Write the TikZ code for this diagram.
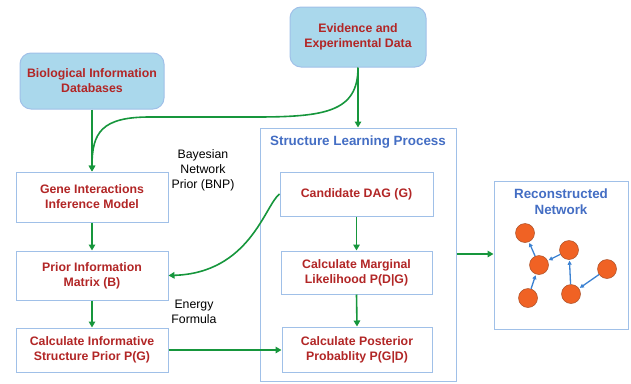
\documentclass[tikz,border=0pt]{standalone}
\usepackage{fontspec}
\setmainfont{Liberation Sans}
\usetikzlibrary{arrows.meta}
\definecolor{boxred}{RGB}{178,38,38}
\definecolor{titleblue}{RGB}{68,110,196}
\definecolor{edgeblue}{RGB}{160,192,232}
\definecolor{cyanfill}{RGB}{170,216,236}
\definecolor{arrgreen}{RGB}{22,150,60}
\definecolor{nodeorange}{RGB}{240,98,36}
\definecolor{nodeedge}{RGB}{170,80,40}
\definecolor{netblue}{RGB}{60,130,210}
\tikzset{
  x=1pt,y=1pt,
  basefont/.style={font=\fontsize{12.3}{15}\selectfont},
  dbbox/.style={draw=edgeblue,line width=1pt,fill=cyanfill,rounded corners=11pt,align=center,text=boxred,basefont,font=\fontsize{12.3}{15}\selectfont\bfseries,inner sep=0pt},
  stepbox/.style={draw=edgeblue,line width=1pt,fill=white,align=center,text=boxred,font=\fontsize{12.3}{15}\selectfont\bfseries,inner sep=0pt},
  bigbox/.style={draw=edgeblue,line width=1pt,fill=white,inner sep=0pt},
  titletext/.style={text=titleblue,font=\fontsize{13.4}{16}\selectfont\bfseries,align=center},
  labeltext/.style={text=black,font=\fontsize{12.3}{15}\selectfont,align=center},
  garrow/.style={draw=arrgreen,line width=1.6pt,-{Triangle[length=6pt,width=6.5pt]}},
  netnode/.style={circle,fill=nodeorange,draw=nodeedge,line width=0.5pt,minimum size=19pt,inner sep=0pt},
  netedge/.style={draw=netblue,line width=1.3pt,-{Triangle[length=4pt,width=4pt]},shorten >=1pt},
}
\begin{document}
\begin{tikzpicture}
\useasboundingbox (0,0) rectangle (631,-383);
% big boxes
\node[bigbox,minimum width=196pt,minimum height=253pt] (struct) at (358,-254.5) {};
\node[titletext] (structtitle) at (358,-142) {Structure Learning Process};
\node[bigbox,minimum width=134pt,minimum height=148pt] (recon) at (561,-255) {};
\node[titletext] (recontitle) at (561,-202) {Reconstructed\\Network};
% data boxes
\node[dbbox,minimum width=144pt,minimum height=56pt] (bio) at (92,-81) {Biological Information\\Databases};
\node[dbbox,minimum width=136pt,minimum height=60pt] (ev) at (358,-37) {Evidence and\\Experimental Data};
% left column
\node[stepbox,minimum width=152pt,minimum height=50pt] (gene) at (92,-197) {Gene Interactions\\Inference Model};
\node[stepbox,minimum width=152pt,minimum height=49pt] (prior) at (92,-275.5) {Prior Information\\Matrix (B)};
\node[stepbox,minimum width=152pt,minimum height=44pt] (calc) at (92,-350) {Calculate Informative\\Structure Prior P(G)};
% structure learning column
\node[stepbox,minimum width=153pt,minimum height=44pt] (cand) at (356.5,-194) {Candidate DAG (G)};
\node[stepbox,minimum width=151pt,minimum height=43pt] (marg) at (356.5,-272.5) {Calculate Marginal\\Likelihood P(D|G)};
\node[stepbox,minimum width=150pt,minimum height=45pt] (post) at (357,-349.5) {Calculate Posterior\\Probablity P(G|D)};
% labels
\node[labeltext] (bnp) at (203,-170) {Bayesian\\Network\\Prior (BNP)};
\node[labeltext] (energy) at (194,-311.5) {Energy\\Formula};
% arrows
\draw[garrow] (bio.south) -- (gene.north);
\draw[garrow] (ev.south) -- (ev.south |- struct.north);
\draw[garrow] (ev.south) .. controls (358,-112) and (325,-117) .. (255,-117) -- (150,-117) .. controls (102,-117) and (92,-132) .. (gene.north);
\draw[garrow] (gene.south) -- (prior.north);
\draw[garrow] (prior.south) -- (calc.north);
\draw[garrow] (calc.east) -- (calc.east -| post.west);
\draw[garrow] (cand.west) .. controls (265,-205) and (250,-273) .. (prior.east);
\draw[garrow] (cand.south) -- (marg.north);
\draw[garrow] (marg.south) -- (post.north);
\draw[garrow] (struct.east |- 0,-254) -- (recon.west |- 0,-254);
% network
\node[netnode] (n1) at (525,-233) {};
\node[netnode] (n2) at (569,-250) {};
\node[netnode] (n3) at (539,-265) {};
\node[netnode] (n4) at (607,-269) {};
\node[netnode] (n5) at (528,-298) {};
\node[netnode] (n6) at (571,-294) {};
\draw[netedge] (n3) -- (n1);
\draw[netedge] (n2) -- (n3);
\draw[netedge] (n5) -- (n3);
\draw[netedge] (n6) -- (n2);
\draw[netedge] (n4) -- (n6);
\end{tikzpicture}
\end{document}
